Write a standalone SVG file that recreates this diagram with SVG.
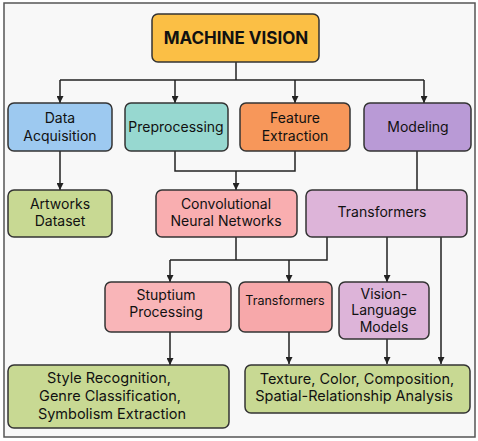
<svg xmlns="http://www.w3.org/2000/svg" width="478" height="441" viewBox="0 0 478 441">
<style>
.box{stroke:#333;stroke-width:1.5}
.t{font-family:Inter,"Liberation Sans",sans-serif;font-size:14px;fill:#111;text-anchor:middle}
.s{font-size:12.5px}
.m{font-size:14.5px}
.c{fill:none;stroke:#222;stroke-width:1.5}
</style>
<defs>
<marker id="ah" viewBox="0 0 10 10" refX="10" refY="5" markerWidth="7" markerHeight="7" markerUnits="userSpaceOnUse" orient="auto">
<path d="M0,0 L10,5 L0,10 z" fill="#222"/>
</marker>
</defs>
<rect x="0" y="0" width="478" height="441" fill="#fff"/>
<rect x="4" y="3" width="471" height="434" fill="#f8f8f8" stroke="#555" stroke-width="1.5"/>
<g id="connectors">
<path class="c" d="M236,62 V80 M60,80 H424"/>
<path class="c" d="M60,80 V103" marker-end="url(#ah)"/>
<path class="c" d="M175,80 V103" marker-end="url(#ah)"/>
<path class="c" d="M295,80 V103" marker-end="url(#ah)"/>
<path class="c" d="M424,80 V103" marker-end="url(#ah)"/>
<path class="c" d="M60,151 V190" marker-end="url(#ah)"/>
<path class="c" d="M175,151 V171 H295 V151"/>
<path class="c" d="M236,171 V190" marker-end="url(#ah)"/>
<path class="c" d="M417,151 V190"/>
<path class="c" d="M236,237 V260 M170,260 H327 V237"/>
<path class="c" d="M170,260 V282" marker-end="url(#ah)"/>
<path class="c" d="M289,260 V282" marker-end="url(#ah)"/>
<path class="c" d="M387,237 V282" marker-end="url(#ah)"/>
<path class="c" d="M441,237 V364" marker-end="url(#ah)"/>
<path class="c" d="M170,332 V365" marker-end="url(#ah)"/>
<path class="c" d="M289,332 V364" marker-end="url(#ah)"/>
<path class="c" d="M387,339 V364" marker-end="url(#ah)"/>
</g>
<g id="machine-vision">
<rect class="box" x="152" y="14" width="167" height="48" rx="6" fill="#fbbf45"/>
<text class="t" x="236" y="44" style="font-size:17px;font-weight:700">MACHINE VISION</text>
</g>
<g id="data-acquisition">
<rect class="box" x="8" y="103" width="104" height="48" rx="6" fill="#9dc9f0"/>
<text class="t" x="60" y="123">Data</text>
<text class="t" x="60" y="141">Acquisition</text>
</g>
<g id="preprocessing">
<rect class="box" x="125" y="103" width="103" height="48" rx="6" fill="#97d8d0"/>
<text class="t" x="176" y="132">Preprocessing</text>
</g>
<g id="feature-extraction">
<rect class="box" x="240" y="103" width="110" height="48" rx="6" fill="#f7975a"/>
<text class="t" x="295" y="123">Feature</text>
<text class="t" x="295" y="141">Extraction</text>
</g>
<g id="modeling">
<rect class="box" x="364" y="103" width="107" height="48" rx="6" fill="#b99ad6"/>
<text class="t" x="418" y="132">Modeling</text>
</g>
<g id="artworks-dataset">
<rect class="box" x="8" y="190" width="104" height="47" rx="6" fill="#c8d993"/>
<text class="t" x="60" y="209">Artworks</text>
<text class="t" x="60" y="226">Dataset</text>
</g>
<g id="cnn">
<rect class="box" x="156" y="190" width="141" height="47" rx="6" fill="#f9aeb0"/>
<text class="t" x="226" y="209">Convolutional</text>
<text class="t" x="226" y="226">Neural Networks</text>
</g>
<g id="transformers-main">
<rect class="box" x="306" y="190" width="161" height="47" rx="6" fill="#ddb4d9"/>
<text class="t" x="382" y="217">Transformers</text>
</g>
<g id="stuptium-processing">
<rect class="box" x="105" y="282" width="126" height="50" rx="6" fill="#f9b5b8"/>
<text class="t" x="166" y="300">Stuptium</text>
<text class="t" x="166" y="317">Processing</text>
</g>
<g id="transformers-small">
<rect class="box" x="239" y="282" width="93" height="50" rx="6" fill="#f7a8aa"/>
<text class="t s" x="285" y="305">Transformers</text>
</g>
<g id="vision-language-models">
<rect class="box" x="339" y="282" width="90" height="57" rx="6" fill="#ddb4d9"/>
<text class="t" x="384" y="299">Vision-</text>
<text class="t" x="384" y="315">Language</text>
<text class="t" x="384" y="332">Models</text>
</g>
<g id="style-recognition">
<rect class="box" x="8" y="365" width="221" height="63" rx="6" fill="#c8d993"/>
<text class="t m" x="109" y="383">Style Recognition,</text>
<text class="t m" x="110" y="401">Genre Classification,</text>
<text class="t m" x="112" y="419">Symbolism Extraction</text>
</g>
<g id="texture-analysis">
<rect class="box" x="245" y="365" width="225" height="48" rx="6" fill="#c8d993"/>
<text class="t m" x="357" y="384">Texture, Color, Composition,</text>
<text class="t m" x="354" y="401">Spatial-Relationship Analysis</text>
</g>
</svg>
